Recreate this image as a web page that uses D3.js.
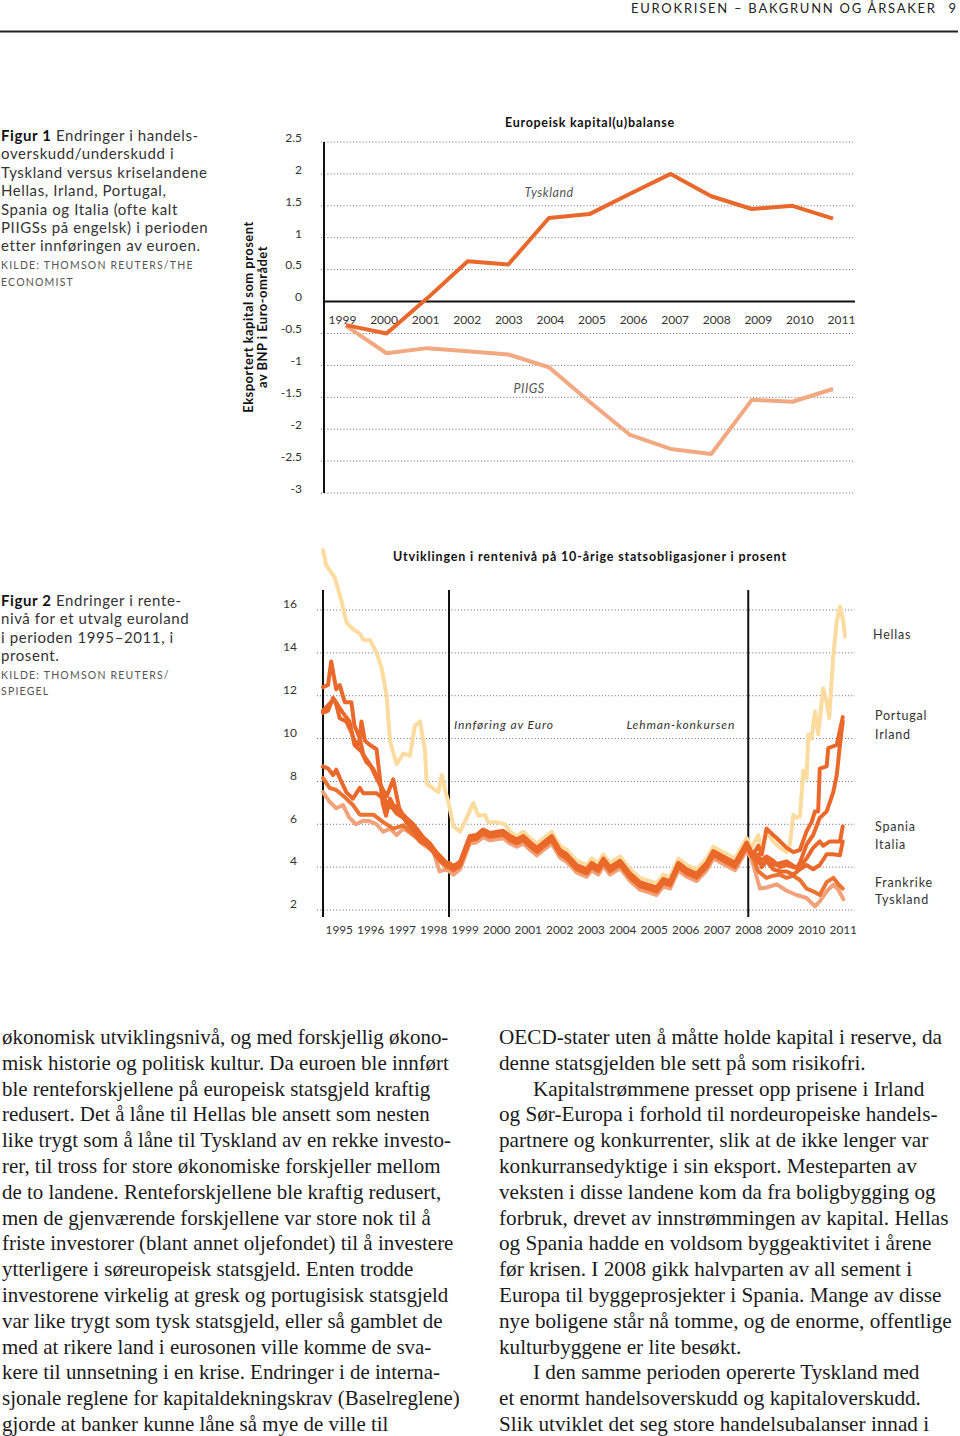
<!DOCTYPE html>
<html><head><meta charset="utf-8">
<script src="https://cdn.jsdelivr.net/npm/d3@7"></script>
<style>body{margin:0;background:#fff} svg{display:block}</style>
</head><body>
<script>
// ---------------- DATA ----------------
const headerText = "EUROKRISEN – BAKGRUNN OG ÅRSAKER";
const pageNumber = "9";

const fig1Years = [1999,2000,2001,2002,2003,2004,2005,2006,2007,2008,2009,2010,2011];
const fig1Tyskland = [-0.37,-0.5,0.05,0.63,0.58,1.31,1.37,1.69,2.0,1.65,1.45,1.5,1.3];
const fig1PIIGS = [-0.38,-0.81,-0.73,-0.78,-0.83,-1.03,-1.57,-2.09,-2.31,-2.39,-1.54,-1.57,-1.37];
const fig1Ticks = [2.5,2,1.5,1,0.5,0,-0.5,-1,-1.5,-2,-2.5,-3];
const fig1Title = "Europeisk kapital(u)balanse";
const fig1AxisTitle = ["Eksportert kapital som prosent","av BNP i Euro-området"];

const fig2Years = [1995,1996,1997,1998,1999,2000,2001,2002,2003,2004,2005,2006,2007,2008,2009,2010,2011];
const fig2Ticks = [16,14,12,10,8,6,4,2];
const fig2Title = "Utviklingen i rentenivå på 10-årige statsobligasjoner i prosent";
const fig2Events = [{t:1999.0,label:"Innføring av Euro"},{t:2008.5,label:"Lehman-konkursen"}];

const hellas = [[1995.0,18.8],[1995.1,18.1],[1995.38,17.5],[1995.59,16.4],[1995.75,15.4],[1995.96,15.1],[1996.17,14.9],[1996.28,14.6],[1996.49,14.6],[1996.7,14.0],[1996.86,13.3],[1997.02,12.0],[1997.13,9.85],[1997.34,8.8],[1997.55,9.3],[1997.76,9.2],[1997.92,10.6],[1998.08,10.8],[1998.24,9.4],[1998.29,7.9],[1998.66,7.5],[1998.77,8.3],[1998.89,7.5],[1998.98,7.06],[1999.14,5.9],[1999.35,5.66],[1999.56,6.3],[1999.77,7.0],[1999.93,6.4],[2000.14,6.45],[2000.24,6.1],[2000.51,6.1],[2000.78,6.0],[2000.94,5.66],[2001.15,5.45],
[2001.36,5.65],[2001.58,5.35],[2001.79,5.1],[2002.0,5.35],[2002.26,5.65],[2002.52,5.0],[2002.74,4.8],[2003.05,4.3],[2003.37,4.1],[2003.53,4.4],[2003.74,4.2],[2003.9,4.6],[2004.11,4.2],[2004.43,4.5],[2004.75,3.9],[2005.06,3.5],[2005.38,3.35],[2005.59,3.25],[2005.8,3.65],[2006.02,3.55],[2006.28,4.4],[2006.55,4.1],[2006.86,3.9],[2007.18,4.4],[2007.39,4.95],[2007.71,4.7],[2008.08,4.4],[2008.45,5.35],[2008.61,4.9],
[2008.66,5.05],[2008.82,5.5],[2008.93,4.7],[2009.08,5.67],[2009.29,5.2],[2009.5,4.9],[2009.72,4.7],[2009.82,5.05],[2009.93,6.44],[2010.03,6.3],[2010.14,6.37],[2010.25,8.5],[2010.35,8.15],[2010.41,10.2],[2010.51,10.0],[2010.62,11.26],[2010.72,10.2],[2010.88,12.35],[2010.99,11.7],[2011.07,10.95],[2011.2,13.9],[2011.31,15.46],[2011.41,16.16],[2011.52,15.46],[2011.57,14.76]];

const italia = [[1995.0,12.4],[1995.16,12.5],[1995.26,13.6],[1995.42,12.3],[1995.53,12.5],[1995.69,11.7],[1995.9,11.7],[1996.0,10.6],[1996.17,10.0],[1996.22,10.8],[1996.33,9.9],[1996.49,9.7],[1996.7,9.5],[1996.81,8.1],[1996.89,7.0],[1997.0,6.4],[1997.13,7.2],[1997.23,6.9],[1997.44,6.7],[1997.65,6.1],[1997.87,5.9],[1998.08,5.5],[1998.29,5.2],[1998.5,4.8],[1998.7,4.4],[1998.92,4.2],
[1999.0,4.2],[1999.14,4.05],[1999.35,4.25],[1999.66,5.45],[1999.87,5.5],[2000.08,5.75],[2000.3,5.6],[2000.72,5.7],[2000.94,5.45],[2001.15,5.3],[2001.36,5.45],[2001.58,5.15],[2001.79,4.9],[2002.0,5.15],[2002.26,5.45],[2002.52,4.8],[2002.74,4.6],[2003.05,4.1],[2003.37,3.9],[2003.53,4.2],[2003.74,4.0],[2003.9,4.4],[2004.11,4.0],[2004.43,4.3],[2004.75,3.7],[2005.06,3.3],[2005.38,3.15],[2005.59,3.05],[2005.8,3.45],[2006.02,3.35],[2006.28,4.2],[2006.55,3.9],[2006.86,3.7],[2007.18,4.2],[2007.39,4.75],[2007.71,4.5],[2008.08,4.2],[2008.45,5.15],[2008.61,4.7],
[2008.66,4.5],[2008.82,4.6],[2008.93,4.0],[2009.08,4.3],[2009.29,3.9],[2009.5,3.8],[2009.72,3.8],[2009.93,3.65],[2010.14,3.9],[2010.35,4.1],[2010.56,3.9],[2010.77,4.1],[2010.99,4.6],[2011.2,4.6],[2011.41,4.55],[2011.5,5.2]];

const spania = [[1995.0,11.2],[1995.16,11.3],[1995.32,11.9],[1995.42,11.6],[1995.53,10.95],[1995.74,10.8],[1995.9,10.3],[1996.0,9.9],[1996.1,9.7],[1996.17,10.0],[1996.28,9.25],[1996.49,8.8],[1996.7,8.15],[1996.86,7.7],[1997.02,6.8],[1997.23,6.8],[1997.44,6.6],[1997.65,6.1],[1997.87,5.7],[1998.08,5.2],[1998.29,5.05],[1998.5,4.7],[1998.7,4.35],[1998.92,4.1],
[1999.0,4.1],[1999.14,3.95],[1999.35,4.15],[1999.66,5.35],[1999.87,5.4],[2000.08,5.65],[2000.3,5.5],[2000.72,5.6],[2000.94,5.35],[2001.15,5.2],[2001.36,5.35],[2001.58,5.05],[2001.79,4.8],[2002.0,5.05],[2002.26,5.35],[2002.52,4.7],[2002.74,4.5],[2003.05,4.0],[2003.37,3.8],[2003.53,4.1],[2003.74,3.9],[2003.9,4.3],[2004.11,3.9],[2004.43,4.2],[2004.75,3.6],[2005.06,3.2],[2005.38,3.05],[2005.59,2.95],[2005.8,3.35],[2006.02,3.25],[2006.28,4.1],[2006.55,3.8],[2006.86,3.6],[2007.18,4.1],[2007.39,4.65],[2007.71,4.4],[2008.08,4.1],[2008.45,5.05],[2008.61,4.6],
[2008.66,4.6],[2008.82,4.2],[2009.08,4.5],[2009.29,4.3],[2009.5,4.0],[2009.72,4.1],[2009.93,4.0],[2010.14,4.0],[2010.35,4.4],[2010.56,4.9],[2010.77,5.2],[2010.88,5.0],[2011.09,5.2],[2011.31,5.2],[2011.41,5.2],[2011.5,5.9]];

const portugal = [[1995.0,11.3],[1995.26,11.7],[1995.37,11.8],[1995.63,11.2],[1995.84,10.8],[1996.0,9.7],[1996.22,9.4],[1996.38,8.9],[1996.59,8.6],[1996.8,7.9],[1997.02,7.3],[1997.23,8.1],[1997.44,6.6],[1997.65,6.3],[1997.87,6.0],[1998.1,5.5],[1998.3,5.1],[1998.5,4.8],[1998.7,4.4],[1998.92,4.2],
[1999.0,4.15],[1999.14,4.0],[1999.35,4.2],[1999.66,5.4],[1999.87,5.45],[2000.08,5.7],[2000.3,5.55],[2000.72,5.65],[2000.94,5.4],[2001.15,5.25],[2001.36,5.4],[2001.58,5.1],[2001.79,4.85],[2002.0,5.1],[2002.26,5.4],[2002.52,4.75],[2002.74,4.55],[2003.05,4.05],[2003.37,3.85],[2003.53,4.15],[2003.74,3.95],[2003.9,4.35],[2004.11,3.95],[2004.43,4.25],[2004.75,3.65],[2005.06,3.25],[2005.38,3.1],[2005.59,3.0],[2005.8,3.4],[2006.02,3.3],[2006.28,4.15],[2006.55,3.85],[2006.86,3.65],[2007.18,4.15],[2007.39,4.7],[2007.71,4.45],[2008.08,4.15],[2008.45,5.1],[2008.61,4.65],
[2008.66,4.5],[2008.82,4.3],[2009.08,4.4],[2009.29,4.1],[2009.72,4.27],[2010.03,3.96],[2010.14,4.2],[2010.35,5.05],[2010.56,5.5],[2010.77,6.3],[2010.99,6.6],[2011.2,7.5],[2011.31,8.3],[2011.41,9.7],[2011.5,10.8]];

const irland = [[1995.0,8.7],[1995.16,8.6],[1995.32,8.3],[1995.42,8.55],[1995.58,8.0],[1995.74,7.5],[1995.95,7.2],[1996.17,7.7],[1996.28,7.45],[1996.7,7.45],[1996.9,7.2],[1997.13,6.9],[1997.34,6.5],[1997.55,6.3],[1997.76,6.1],[1997.97,5.8],[1998.18,5.4],[1998.4,5.1],[1998.6,4.7],[1998.8,4.4],[1998.95,4.1],
[1999.0,4.05],[1999.14,3.9],[1999.35,4.1],[1999.66,5.3],[1999.87,5.35],[2000.08,5.6],[2000.3,5.45],[2000.72,5.55],[2000.94,5.3],[2001.15,5.15],[2001.36,5.3],[2001.58,5.0],[2001.79,4.75],[2002.0,5.0],[2002.26,5.3],[2002.52,4.65],[2002.74,4.45],[2003.05,3.95],[2003.37,3.75],[2003.53,4.05],[2003.74,3.85],[2003.9,4.25],[2004.11,3.85],[2004.43,4.15],[2004.75,3.55],[2005.06,3.15],[2005.38,3.0],[2005.59,2.9],[2005.8,3.3],[2006.02,3.2],[2006.28,4.05],[2006.55,3.75],[2006.86,3.55],[2007.18,4.05],[2007.39,4.6],[2007.71,4.35],[2008.08,4.05],[2008.45,5.0],[2008.61,4.55],
[2008.66,4.6],[2008.82,5.0],[2008.93,4.6],[2009.08,5.8],[2009.29,5.5],[2009.4,5.36],[2009.72,4.9],[2009.93,4.7],[2010.14,4.8],[2010.35,5.67],[2010.51,6.1],[2010.62,6.6],[2010.72,6.6],[2010.77,8.6],[2010.99,8.7],[2011.04,9.55],[2011.31,9.7],[2011.5,11.0]];

const frankrike = [[1995.0,8.15],[1995.21,7.7],[1995.42,7.6],[1995.74,7.2],[1995.95,6.9],[1996.17,6.45],[1996.6,6.45],[1996.91,6.1],[1997.23,5.8],[1997.55,5.95],[1997.87,5.5],[1998.18,5.2],[1998.5,4.75],[1998.7,4.3],[1998.92,4.0],
[1999.0,4.0],[1999.14,3.85],[1999.35,4.05],[1999.66,5.25],[1999.87,5.3],[2000.08,5.55],[2000.3,5.4],[2000.72,5.5],[2000.94,5.25],[2001.15,5.1],[2001.36,5.25],[2001.58,4.95],[2001.79,4.7],[2002.0,4.95],[2002.26,5.25],[2002.52,4.6],[2002.74,4.4],[2003.05,3.9],[2003.37,3.7],[2003.53,4.0],[2003.74,3.8],[2003.9,4.2],[2004.11,3.8],[2004.43,4.1],[2004.75,3.5],[2005.06,3.1],[2005.38,2.95],[2005.59,2.85],[2005.8,3.25],[2006.02,3.15],[2006.28,4.0],[2006.55,3.7],[2006.86,3.5],[2007.18,4.0],[2007.39,4.55],[2007.71,4.3],[2008.08,4.0],[2008.45,4.95],[2008.61,4.5],
[2008.66,4.4],[2008.82,3.8],[2009.08,3.5],[2009.29,3.6],[2009.5,3.65],[2009.72,3.5],[2009.93,3.6],[2010.14,3.4],[2010.35,3.0],[2010.56,2.87],[2010.77,2.7],[2010.99,3.3],[2011.2,3.5],[2011.36,3.2],[2011.5,3.0]];

const tyskland = [[1995.0,7.5],[1995.21,7.05],[1995.42,6.75],[1995.63,6.9],[1995.84,6.3],[1996.05,6.0],[1996.26,6.15],[1996.47,6.15],[1996.7,6.0],[1996.91,5.65],[1997.13,5.8],[1997.34,5.5],[1997.55,5.8],[1997.87,5.5],[1998.18,5.05],[1998.5,4.75],[1998.7,3.8],[1998.92,3.9],
[1999.14,3.65],[1999.35,3.9],[1999.66,5.1],[1999.87,5.15],[2000.08,5.4],[2000.3,5.25],[2000.72,5.35],[2000.94,5.1],[2001.15,4.95],[2001.36,5.1],[2001.58,4.8],[2001.79,4.55],[2002.0,4.8],[2002.26,5.1],[2002.52,4.45],[2002.74,4.25],[2003.05,3.75],[2003.37,3.55],[2003.53,3.85],[2003.74,3.65],[2003.9,4.05],[2004.11,3.65],[2004.43,3.95],[2004.75,3.35],[2005.06,2.95],[2005.38,2.8],[2005.59,2.7],[2005.8,3.1],[2006.02,3.0],[2006.28,3.85],[2006.55,3.55],[2006.86,3.35],[2007.18,3.85],[2007.39,4.4],[2007.71,4.15],[2008.08,3.85],[2008.45,4.8],[2008.61,4.35],
[2008.66,4.1],[2008.87,3.0],[2009.08,3.05],[2009.4,3.2],[2009.72,2.9],[2010.03,2.7],[2010.35,2.56],[2010.62,2.17],[2010.77,2.4],[2010.99,2.87],[2011.2,3.18],[2011.36,2.95],[2011.52,2.5]];

const fig2Series = [
  {name:"Hellas", data:hellas, color:"#fcdc9e"},
  {name:"Tyskland", data:tyskland, color:"#f2a27a"},
  {name:"Frankrike", data:frankrike, color:"#ec7432"},
  {name:"Irland", data:irland, color:"#e9682a"},
  {name:"Portugal", data:portugal, color:"#e9682a"},
  {name:"Italia", data:italia, color:"#e9682a"},
  {name:"Spania", data:spania, color:"#e9682a"}
];
const fig2Labels = [["Hellas",14.85],["Portugal",11.05],["Irland",10.2],["Spania",5.87],["Italia",5.03],["Frankrike",3.3],["Tyskland",2.47]];

const caption1 = [["Figur 1"," Endringer i handels-"],["","overskudd/underskudd i"],["","Tyskland versus kriselandene"],["","Hellas, Irland, Portugal,"],["","Spania og Italia (ofte kalt"],["","PIIGSs på engelsk) i perioden"],["","etter innføringen av euroen."]];
const source1 = ["KILDE: THOMSON REUTERS/THE","ECONOMIST"];
const caption2 = [["Figur 2"," Endringer i rente-"],["","nivå for et utvalg euroland"],["","i perioden 1995–2011, i"],["","prosent."]];
const source2 = ["KILDE: THOMSON REUTERS/","SPIEGEL"];

const bodyLeft = [
"økonomisk utviklingsnivå, og med forskjellig økono-",
"misk historie og politisk kultur. Da euroen ble innført",
"ble renteforskjellene på europeisk statsgjeld kraftig",
"redusert. Det å låne til Hellas ble ansett som nesten",
"like trygt som å låne til Tyskland av en rekke investo-",
"rer, til tross for store økonomiske forskjeller mellom",
"de to landene. Renteforskjellene ble kraftig redusert,",
"men de gjenværende forskjellene var store nok til å",
"friste investorer (blant annet oljefondet) til å investere",
"ytterligere i søreuropeisk statsgjeld. Enten trodde",
"investorene virkelig at gresk og portugisisk statsgjeld",
"var like trygt som tysk statsgjeld, eller så gamblet de",
"med at rikere land i eurosonen ville komme de sva-",
"kere til unnsetning i en krise. Endringer i de interna-",
"sjonale reglene for kapitaldekningskrav (Baselreglene)",
"gjorde at banker kunne låne så mye de ville til"];
const bodyRight = [
[0,"OECD-stater uten å måtte holde kapital i reserve, da"],
[0,"denne statsgjelden ble sett på som risikofri."],
[1,"Kapitalstrømmene presset opp prisene i Irland"],
[0,"og Sør-Europa i forhold til nordeuropeiske handels-"],
[0,"partnere og konkurrenter, slik at de ikke lenger var"],
[0,"konkurransedyktige i sin eksport. Mesteparten av"],
[0,"veksten i disse landene kom da fra boligbygging og"],
[0,"forbruk, drevet av innstrømmingen av kapital. Hellas"],
[0,"og Spania hadde en voldsom byggeaktivitet i årene"],
[0,"før krisen. I 2008 gikk halvparten av all sement i"],
[0,"Europa til byggeprosjekter i Spania. Mange av disse"],
[0,"nye boligene står nå tomme, og de enorme, offentlige"],
[0,"kulturbyggene er lite besøkt."],
[1,"I den samme perioden opererte Tyskland med"],
[0,"et enormt handelsoverskudd og kapitaloverskudd."],
[0,"Slik utviklet det seg store handelsubalanser innad i"]];

// ---------------- DRAW ----------------
const SANS = "Lato, 'Open Sans', 'DejaVu Sans', sans-serif";
const SERIF = "'Liberation Serif', 'DejaVu Serif', serif";
const W = 960, H = 1436;
const svg = d3.select("body").append("svg").attr("width",W).attr("height",H)
  .style("font-family",SANS);
svg.append("rect").attr("width",W).attr("height",H).attr("fill","#fff");

// header
svg.append("text").attr("x",631).attr("y",13).attr("font-size",13).attr("letter-spacing",1.75)
  .attr("fill","#222").text(headerText);
svg.append("text").attr("x",956).attr("y",13).attr("font-size",13).attr("text-anchor","end")
  .attr("fill","#222").text(pageNumber);
svg.append("line").attr("x1",0).attr("x2",958).attr("y1",31.5).attr("y2",31.5)
  .attr("stroke","#222").attr("stroke-width",2);

function caption(lines, src, x, y0, lh) {
  const g = svg.append("g");
  lines.forEach((l,i)=>{
    const t = g.append("text").attr("x",x).attr("y",y0+i*lh).attr("font-size",15).attr("fill","#333").attr("letter-spacing",0.6);
    if (l[0]) t.append("tspan").attr("font-weight","bold").attr("fill","#111").text(l[0]);
    t.append("tspan").text(l[1]);
  });
  const ys = y0 + lines.length*lh - 0.5;
  src.forEach((s,i)=>{
    g.append("text").attr("x",x).attr("y",ys+i*16.2).attr("font-size",10.5).attr("letter-spacing",1.2)
      .attr("fill","#555").text(s);
  });
}
caption(caption1, source1, 1, 141, 18.4);
caption(caption2, source2, 1, 606, 18.4);

// ---------- Figure 1 ----------
const y1 = d3.scaleLinear().domain([-3,2.5]).range([493,142]);
const x1 = d3.scalePoint().domain(fig1Years).range([346,833]);
const x1lab = d3.scalePoint().domain(fig1Years).range([342,841]);
const g1 = svg.append("g");
g1.selectAll("line.grid").data(fig1Ticks.filter(d=>d!==0)).join("line")
  .attr("x1",321).attr("x2",855).attr("y1",d=>y1(d)).attr("y2",d=>y1(d))
  .attr("stroke","#666").attr("stroke-width",1).attr("stroke-dasharray","1,2.2");
g1.append("line").attr("x1",323).attr("x2",855).attr("y1",y1(0)).attr("y2",y1(0))
  .attr("stroke","#111").attr("stroke-width",2);
g1.append("line").attr("x1",324).attr("x2",324).attr("y1",y1(2.5)).attr("y2",y1(-3))
  .attr("stroke","#111").attr("stroke-width",2);
const ay1 = g1.append("g").attr("transform","translate(302,-4.5)")
  .call(d3.axisLeft(y1).tickValues(fig1Ticks).tickSize(0).tickPadding(0).tickFormat(d=>String(d)));
ay1.select(".domain").remove();
ay1.selectAll("text").attr("font-family",SANS).attr("font-size",12).attr("fill","#333");
const ax1 = g1.append("g").attr("transform",`translate(0,${y1(0)})`)
  .call(d3.axisBottom(x1lab).tickSize(0).tickPadding(0));
ax1.select(".domain").remove();
ax1.selectAll("text").attr("font-family",SANS).attr("font-size",12).attr("fill","#333")
  .attr("y",18.5).attr("dy","0.35em");
g1.append("text").attr("x",590).attr("y",126.5).attr("text-anchor","middle").attr("font-weight","bold")
  .attr("font-size",12.5).attr("letter-spacing",0.7).attr("fill","#111").text(fig1Title);
fig1AxisTitle.forEach((t,i)=>{
  g1.append("text").attr("transform",`translate(${253+i*14},317) rotate(-90)`).attr("text-anchor","middle")
    .attr("font-weight","bold").attr("font-size",13).attr("letter-spacing",0.45).attr("fill","#111").text(t);
});
const line1 = d3.line().x((d,i)=>x1(fig1Years[i])).y(d=>y1(d));
g1.append("path").datum(fig1PIIGS).attr("d",line1).attr("fill","none").attr("stroke","#f2a880")
  .attr("stroke-width",4).attr("stroke-linejoin","round");
g1.append("path").datum(fig1Tyskland).attr("d",line1).attr("fill","none").attr("stroke","#e8692b")
  .attr("stroke-width",4).attr("stroke-linejoin","round");
g1.append("text").attr("x",(x1lab(2003)+x1lab(2004))/2+20).attr("y",y1(1.7)).attr("dy","0.35em")
  .attr("text-anchor","middle").attr("font-style","italic").attr("font-size",12.5).attr("letter-spacing",0.5)
  .attr("fill","#555").text("Tyskland");
g1.append("text").attr("x",(x1lab(2003)+x1lab(2004))/2).attr("y",y1(-1.36)).attr("dy","0.35em")
  .attr("text-anchor","middle").attr("font-style","italic").attr("font-size",12.5).attr("letter-spacing",0.5)
  .attr("fill","#555").text("PIIGS");

// ---------- Figure 2 ----------
const x2 = d3.scaleLinear().domain([1995,2012]).range([323,858.5]);
const y2 = d3.scaleLinear().domain([2,16]).range([910,610]);
const g2 = svg.append("g");
g2.selectAll("line.grid").data(fig2Ticks).join("line")
  .attr("x1",317).attr("x2",855).attr("y1",d=>y2(d)).attr("y2",d=>y2(d))
  .attr("stroke","#666").attr("stroke-width",1).attr("stroke-dasharray","1,2.2");
const ay2 = g2.append("g").attr("transform","translate(297,-6)")
  .call(d3.axisLeft(y2).tickValues(fig2Ticks).tickSize(0).tickPadding(0));
ay2.select(".domain").remove();
ay2.selectAll("text").attr("font-family",SANS).attr("font-size",12).attr("fill","#333");
const ax2 = g2.append("g").attr("transform","translate(0,930)")
  .call(d3.axisBottom(x2).tickValues(fig2Years.map(y=>y+0.5)).tickFormat(d=>String(Math.floor(d))).tickSize(0).tickPadding(0));
ax2.select(".domain").remove();
ax2.selectAll("text").attr("font-family",SANS).attr("font-size",11.8).attr("fill","#333")
  .attr("y",0).attr("dy","0.35em");
g2.append("text").attr("x",590).attr("y",561).attr("text-anchor","middle").attr("font-weight","bold")
  .attr("font-size",12.5).attr("letter-spacing",0.85).attr("fill","#111").text(fig2Title);
[1995].concat(fig2Events.map(e=>e.t)).forEach(t=>{
  g2.append("line").attr("x1",x2(t)).attr("x2",x2(t)).attr("y1",590).attr("y2",917)
    .attr("stroke","#111").attr("stroke-width",2);
});
g2.append("text").attr("x",x2(fig2Events[0].t)+5).attr("y",y2(10.65)).attr("dy","0.35em")
  .attr("font-style","italic").attr("font-size",12).attr("letter-spacing",0.9).attr("fill","#333").text(fig2Events[0].label);
g2.append("text").attr("x",x2(fig2Events[1].t)-13).attr("y",y2(10.65)).attr("dy","0.35em").attr("text-anchor","end")
  .attr("font-style","italic").attr("font-size",12).attr("letter-spacing",0.9).attr("fill","#333").text(fig2Events[1].label);
const line2 = d3.line().x(d=>x2(d[0])).y(d=>y2(d[1]));
g2.selectAll("path.s").data(fig2Series).join("path").attr("d",d=>line2(d.data))
  .attr("fill","none").attr("stroke",d=>d.color).attr("stroke-width",4)
  .attr("stroke-linejoin","round").attr("stroke-linecap","round");
g2.selectAll("text.lab").data(fig2Labels).join("text").attr("x",d=>d[0]==="Hellas"?873:875)
  .attr("y",d=>y2(d[1])).attr("dy","0.35em").attr("font-size",12.5).attr("letter-spacing",0.8)
  .attr("fill","#333").text(d=>d[0]);

// ---------- Body text ----------
const bodyTop = 1044, bodyLH = 25.8;
const gl = svg.append("g").attr("font-family",SERIF).attr("fill","#1a1a1a");
const lt = gl.selectAll("text.l").data(bodyLeft).join("text").attr("x",2)
  .attr("y",(d,i)=>bodyTop+i*bodyLH).attr("font-size",20).text(d=>d);
const maxL = d3.max(lt.nodes(), n=>n.getComputedTextLength());
lt.attr("font-size",20*458/maxL);
const rt = gl.selectAll("text.r").data(bodyRight).join("text").attr("x",d=>d[0]?533:499)
  .attr("y",(d,i)=>bodyTop+i*bodyLH).attr("font-size",20).text(d=>d[1]);
const maxR = d3.max(rt.nodes().filter((n,i)=>!bodyRight[i][0]), n=>n.getComputedTextLength());
rt.attr("font-size",20*453/maxR);
</script>
</body></html>
